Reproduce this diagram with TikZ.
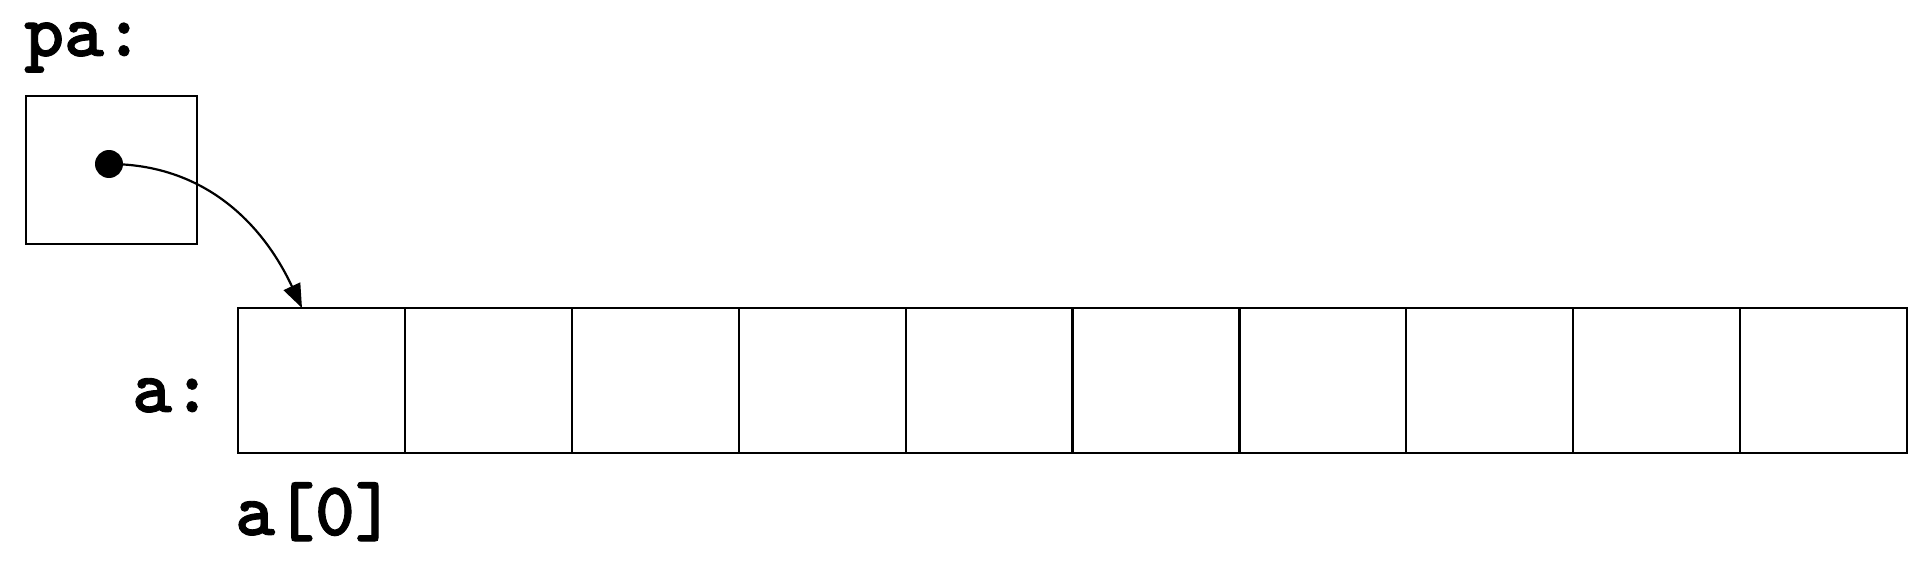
\documentclass[tikz,border=0pt]{standalone}
\usepackage{fontspec}
\newfontfamily\codefont{lmmonolt10-bold.otf}[FakeBold=1.2]
\usetikzlibrary{arrows.meta}
\tikzset{
  cell/.style={draw, line width=2.2pt, minimum width=166.9pt, minimum height=145pt, inner sep=0pt, outer sep=0pt},
  ptrbox/.style={draw, line width=2.2pt, minimum width=171pt, minimum height=148pt, inner sep=0pt, outer sep=0pt},
  lbl/.style={font=\fontsize{76}{80}\selectfont\codefont, inner sep=0pt, anchor=base west},
  dotnode/.style={circle, fill=black, minimum size=28pt, inner sep=0pt},
  ptr/.style={line width=2.2pt, -{Triangle[length=24pt,width=18pt]}}
}
\begin{document}
\begin{tikzpicture}[x=1pt,y=-1pt]
\useasboundingbox (0,0) rectangle (1932,578);
\node[lbl] (palbl) at (24,56) {pa:};
\node[ptrbox] (pa) at (111.5,170) {};
\node[dotnode] (dot) at (109,164) {};
\foreach \i in {0,...,9} {
  \node[cell] (a\i) at ({238+166.9*(\i+0.5)},380.5) {};
}
\node[lbl] (albl) at (132,412) {a:};
\node[lbl] (a0lbl) at (235,535) {a[0]};
\coordinate (tip) at ([xshift=64pt]a0.north west);
\draw[ptr] (dot.center) to[out=0,in=115] (tip);
\end{tikzpicture}
\end{document}
